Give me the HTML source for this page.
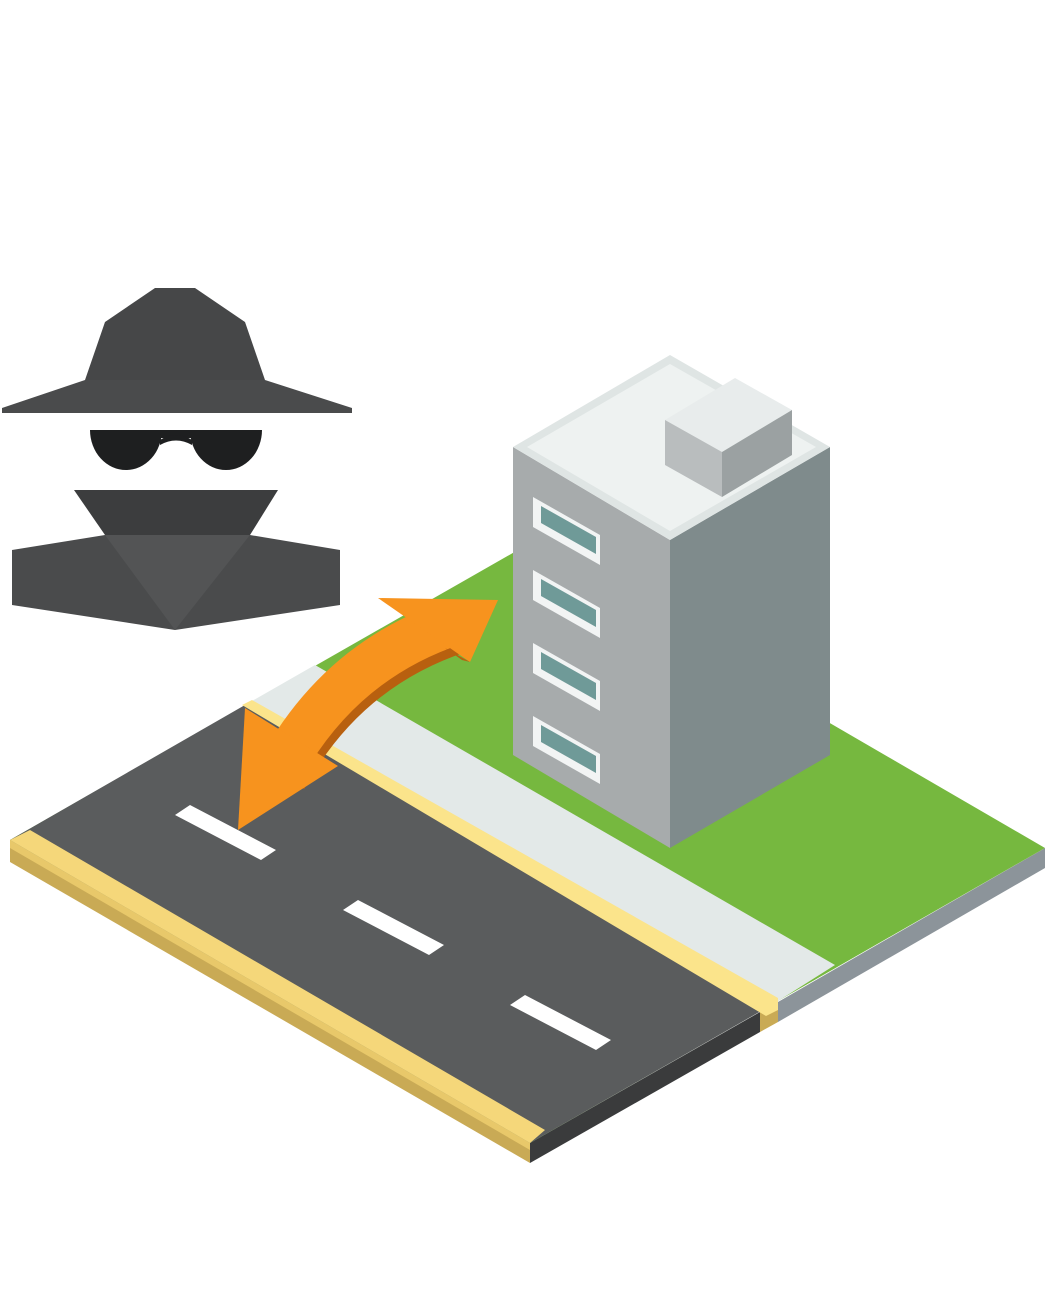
<!DOCTYPE html>
<html><head><meta charset="utf-8"><style>html,body{margin:0;padding:0;background:#fff}svg{display:block}</style></head><body>
<svg width="1047" height="1296" viewBox="0 0 1047 1296" xmlns="http://www.w3.org/2000/svg">
<!-- spy -->
<polygon points="85,380 105,322 155,288 195,288 245,322 265,380" fill="#464748"/>
<polygon points="2,408 85,380 265,380 352,408 352,413 2,413" fill="#4a4b4c"/>
<path d="M90,430 H162 A36,40 0 0 1 90,430 Z" fill="#1e1f20"/>
<path d="M190,430 H262 A36,40 0 0 1 190,430 Z" fill="#1e1f20"/>
<rect x="155" y="430" width="40" height="8" fill="#1e1f20"/>
<path d="M160,440 Q176,430 192,440 L192,445 Q176,436 160,445Z" fill="#1e1f20"/>
<polygon points="74,490 278,490 250,535 105,535" fill="#3c3d3e"/>
<polygon points="12,550 105,535 250,535 340,550 340,605 175,630 12,605" fill="#4a4b4c"/>
<polygon points="105,535 250,535 175,630" fill="#535455"/>
<!-- platform sides -->
<polygon points="10,840 530,1143 530,1163 10,862" fill="#c9aa55"/>
<polygon points="530,1143 760,1012 760,1032 530,1163" fill="#3a3b3c"/>
<polygon points="760,1012 778,1002 778,1022 760,1032" fill="#c9aa55"/>
<polygon points="778,1002 1045,848 1045,868 778,1022" fill="#8c949a"/>
<!-- grass top -->
<polygon points="10,840 525,546 1045,848 530,1143" fill="#76b83f"/>
<!-- sidewalk -->
<polygon points="245,705 315,665 835,965 775,1003" fill="#e3e9e8"/>
<!-- road -->
<polygon points="10,840 245,705 775,1003 530,1143" fill="#5a5c5d"/>
<!-- curbs -->
<polygon points="242,705 252,700 778,998 778,1010 766,1016" fill="#fbe48b"/>
<polygon points="10,840 30,830 545,1130 530,1143" fill="#f5d77a"/>
<polygon points="10,840 530,1143 530,1150 10,848" fill="#e8c86a"/>
<!-- lane marks -->
<polygon points="175,815 190,805 276,850 261,860" fill="#fff"/>
<polygon points="343,910 358,900 444,945 429,955" fill="#fff"/>
<polygon points="510,1005 525,995 611,1040 596,1050" fill="#fff"/>
<!-- building -->
<polygon points="513,447 670,540 670,848 513,755" fill="#a7abac"/>
<polygon points="670,540 830,447 830,755 670,848" fill="#7f8b8c"/>
<polygon points="513,447 670,355 830,447 670,540" fill="#dfe5e4"/>
<polygon points="527,447 670,364 816,447 670,531" fill="#eef2f1"/>
<polygon points="665,420 735,378 792,410 722,452" fill="#e8ecec"/>
<polygon points="665,420 722,452 722,497 665,465" fill="#b9bdbe"/>
<polygon points="722,452 792,410 792,455 722,497" fill="#9ba1a2"/>
<g fill="#f2f4f4">
<polygon points="533,497 600,535 600,565 533,527"/>
<polygon points="533,570 600,608 600,638 533,600"/>
<polygon points="533,643 600,681 600,711 533,673"/>
<polygon points="533,716 600,754 600,784 533,746"/>
</g>
<g fill="#6f9a98">
<polygon points="541,506 596,537 596,554 541,523"/>
<polygon points="541,579 596,610 596,627 541,596"/>
<polygon points="541,652 596,683 596,700 541,669"/>
<polygon points="541,725 596,756 596,773 541,742"/>
</g>
<!-- arrow -->
<path d="M280,770 Q340,660 455,622" fill="none" stroke="#b8600f" stroke-width="46" transform="translate(4,8)"/>
<path d="M280,770 Q340,660 455,622" fill="none" stroke="#f7931e" stroke-width="46"/>
<polygon points="245,708 238,830 338,766" fill="#f7931e"/>
<polygon points="498,600 378,598 470,662" fill="#f7931e"/>
<polygon points="470,662 445,648 462,660" fill="#b8600f"/>
</svg>
</body></html>
